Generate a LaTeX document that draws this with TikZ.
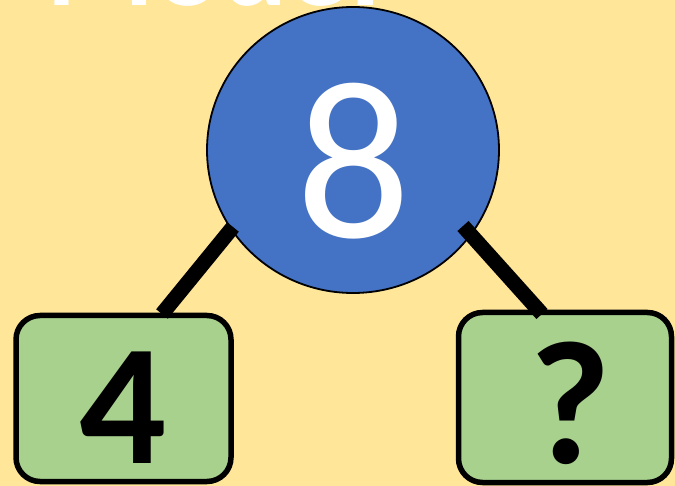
\documentclass[tikz,border=0pt]{standalone}
\usepackage{fontspec}
\usetikzlibrary{shapes.geometric}
\setmainfont{Carlito}
\definecolor{bgyellow}{HTML}{FFE699}
\definecolor{circblue}{HTML}{4472C4}
\definecolor{boxgreen}{HTML}{A9D18E}
\tikzset{
  numbox/.style={draw=black, line width=5.5pt, fill=boxgreen, rounded corners=24pt, inner sep=0pt},
  bondline/.style={line width=15pt, line cap=butt, black},
}
\begin{document}
\begin{tikzpicture}[x=1pt,y=-1pt]
\clip (0,0) rectangle (675,486);
\fill[bgyellow] (0,0) rectangle (675,486);
% title (cut off at top)
\node[anchor=base west, inner sep=0pt, text=white, font=\fontsize{124}{124}\selectfont\bfseries] (title) at (46,6) {Model};
% circle
\node[draw=black, line width=1.8pt, fill=circblue, ellipse, minimum width=292pt, minimum height=286pt, inner sep=0pt] (whole) at (353,150) {};
\node[text=white, inner sep=0pt, font=\fontsize{226}{226}\selectfont] (eight) at (354,161) {8};
% boxes
\node[numbox, minimum width=215pt, minimum height=166pt] (left) at (123.5,398.5) {};
\node[text=black, inner sep=0pt, font=\fontsize{172}{172}\selectfont\bfseries] (four) at (123,408) {4};
\node[numbox, minimum width=213pt, minimum height=170pt] (right) at (565,397.5) {};
\node[text=black, inner sep=0pt, font=\fontsize{176}{176}\selectfont\bfseries] (quest) at (570,403) {?};
% connectors
\coordinate (lt) at (233,227);
\coordinate (lb) at (162,314);
\coordinate (rt) at (463,226);
\coordinate (rb) at (542,314);
\draw[bondline] (lt) -- (lb);
\draw[bondline] (rt) -- (rb);
\end{tikzpicture}
\end{document}
